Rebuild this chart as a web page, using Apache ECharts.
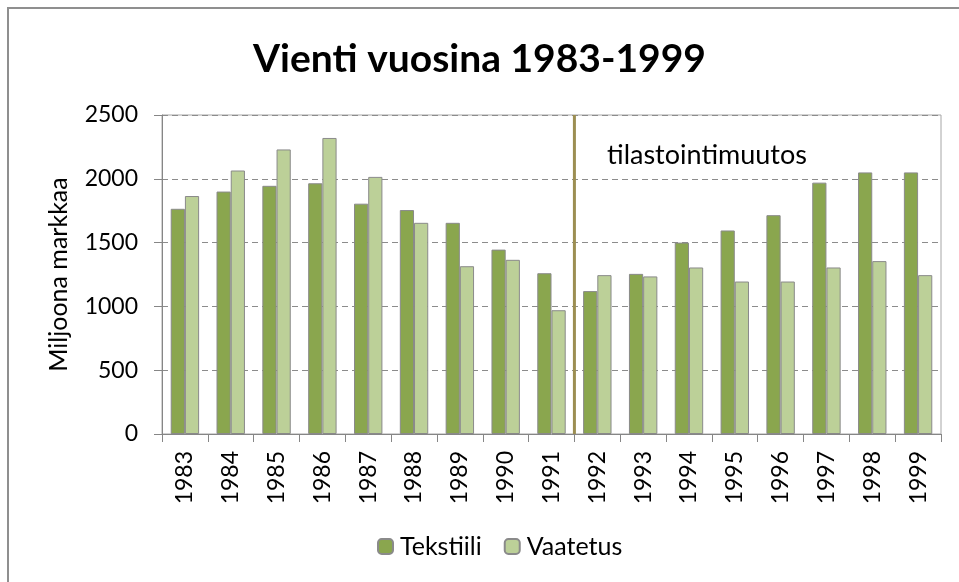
<!DOCTYPE html>
<html>
<head>
<meta charset="utf-8">
<script src="https://cdn.jsdelivr.net/npm/echarts@6/dist/echarts.min.js"></script>
<style>
html,body{margin:0;padding:0;background:#fff;}
#c{width:959px;height:582px;}
</style>
</head>
<body>
<div id="c"></div>
<script>
var years = ['1983','1984','1985','1986','1987','1988','1989','1990','1991','1992','1993','1994','1995','1996','1997','1998','1999'];
var tekstiili = [1765,1900,1945,1965,1805,1755,1655,1445,1260,1120,1255,1500,1595,1715,1970,2050,2050];
var vaatetus = [1865,2065,2230,2320,2015,1655,1315,1365,970,1245,1235,1305,1195,1195,1305,1355,1245];
var yTicks = [0,500,1000,1500,2000,2500];
var changeBoundary = 9; // boundary between 1991 and 1992 (category index)

var FONT = 'Lato';
var chart = echarts.init(document.getElementById('c'), null, {renderer:'canvas'});
chart.setOption({
  backgroundColor:'#ffffff',
  animation:false,
  title:{
    text:'Vienti vuosina 1983-1999',
    left:'center', top:35,
    textStyle:{fontFamily:FONT, fontWeight:'bold', fontSize:39, color:'#000'}
  },
  legend:{
    data:['Tekstiili','Vaatetus'],
    bottom:18, left:372,
    itemWidth:15, itemHeight:15, itemGap:22,
    textStyle:{fontFamily:FONT, fontSize:25, color:'#000', padding:[0,0,0,2]}
  },
  graphic:[
    {type:'rect', shape:{x:8,y:8,width:1200,height:1200}, style:{fill:null, stroke:'#8f8f8f', lineWidth:2}, silent:true},
    {type:'text', left:607, top:142, style:{text:'tilastointimuutos', font:'27px Lato', fill:'#000'}}
  ],
  grid:{left:162, right:18, top:115, bottom:148, show:true, borderColor:'#a6a6a6', borderWidth:1},
  xAxis:[{
    type:'category', data:years,
    axisLine:{lineStyle:{color:'#868686'}},
    axisTick:{show:true, length:8, lineStyle:{color:'#868686'}},
    axisLabel:{rotate:90, margin:17, fontFamily:FONT, fontSize:23, color:'#000'}
  },{
    type:'value', min:0, max:years.length, show:false
  }],
  yAxis:{
    type:'value', min:yTicks[0], max:yTicks[yTicks.length-1], interval:500,
    name:'Miljoona markkaa', nameLocation:'middle', nameGap:91,
    nameTextStyle:{fontFamily:FONT, fontSize:25, color:'#000'},
    axisLine:{show:true, lineStyle:{color:'#868686'}},
    axisTick:{show:true, length:8, lineStyle:{color:'#868686'}},
    axisLabel:{margin:24, fontFamily:FONT, fontSize:23, color:'#000', formatter:function(v){return String(v);}},
    splitLine:{show:true, lineStyle:{type:[6,4], color:'#8c8c8c'}}
  },
  series:[{
    name:'Tekstiili', type:'bar', data:tekstiili, barGap:'0%', barCategoryGap:'38%',
    itemStyle:{color:'#8aa64e', borderColor:'#8a8a8a', borderWidth:1}
  },{
    name:'Vaatetus', type:'bar', data:vaatetus, barGap:'0%', barCategoryGap:'38%',
    itemStyle:{color:'#bcd098', borderColor:'#8a8a8a', borderWidth:1}
  },{
    name:'muutos', type:'line', xAxisIndex:1, symbol:'none', silent:true,
    data:[[changeBoundary,yTicks[0]],[changeBoundary,yTicks[yTicks.length-1]]],
    lineStyle:{color:'#9c8e52', width:3}, z:5
  }]
});
</script>
</body>
</html>
